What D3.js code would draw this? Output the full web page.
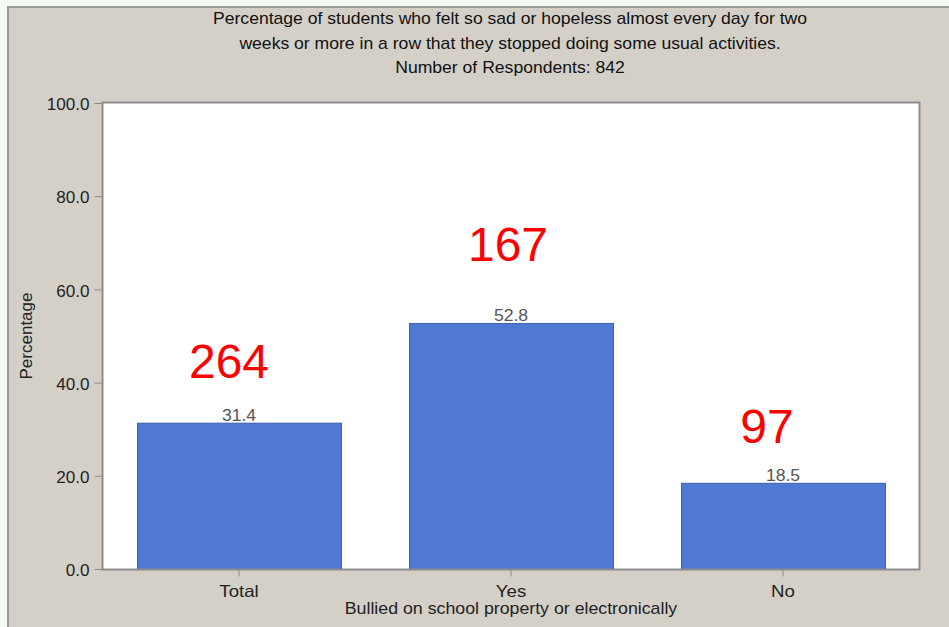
<!DOCTYPE html>
<html><head><meta charset="utf-8">
<script src="https://cdn.jsdelivr.net/npm/d3@7"></script>
<style>body{margin:0;background:#fff;}svg{display:block;}</style>
</head><body>
<script>
const categories = ["Total", "Yes", "No"];
const values = [31.4, 52.8, 18.5];
const counts = ["264", "167", "97"];
const yTicks = [0, 20, 40, 60, 80, 100];
const titleLines = [
  "Percentage of students who felt so sad or hopeless almost every day for two",
  "weeks or more in a row that they stopped doing some usual activities.",
  "Number of Respondents: 842"
];
const xTitle = "Bullied on school property or electronically";
const yTitle = "Percentage";

// layout (not data)
const countOffsets = [{dx:-10, dy:-45}, {dx:-3, dy:-62}, {dx:-16, dy:-40}];

const W = 949, H = 627;
const m = {left:103, top:103, right:919, bottom:569};
const svg = d3.select("body").append("svg").attr("width", W).attr("height", H);
const font = "'Liberation Sans', Arial, sans-serif";

function stretch(sel, sx) {
  sel.each(function() {
    const t = d3.select(this);
    const tx = +t.attr("x") || 0, ty = +t.attr("y") || 0;
    t.attr("x", 0).attr("y", 0).attr("transform", `translate(${tx},${ty}) scale(${sx},1)`);
  });
}

svg.append("rect").attr("width", W).attr("height", H).attr("fill", "#f3faf3");
svg.append("rect").attr("x", 8).attr("y", 7).attr("width", W).attr("height", H)
  .attr("fill", "#d4d0c8").attr("stroke", "#9a9a9a").attr("stroke-width", 2);

const x = d3.scaleBand().domain(categories).range([m.left, m.right]).paddingInner(0.25).paddingOuter(0.125);
const y = d3.scaleLinear().domain([0, 100]).range([m.bottom, m.top]);

svg.append("rect").attr("x", m.left).attr("y", m.top)
  .attr("width", m.right - m.left).attr("height", m.bottom - m.top)
  .attr("fill", "#fff");

// bars
svg.selectAll("rect.bar").data(values).join("rect").attr("class", "bar")
  .attr("x", (d, i) => x(categories[i]) + 0.5)
  .attr("y", d => y(d) + 0.5)
  .attr("width", x.bandwidth())
  .attr("height", d => y(0) - y(d))
  .attr("fill", "#5079d4").attr("stroke", "#3d5fae").attr("stroke-width", 1);

// value labels
const vl = svg.selectAll("text.val").data(values).join("text").attr("class", "val")
  .attr("x", (d, i) => x(categories[i]) + x.bandwidth() / 2)
  .attr("y", d => y(d) - 2)
  .attr("text-anchor", "middle").attr("font-family", font).attr("font-size", 16)
  .attr("fill", "#555").text(d => d.toFixed(1));
stretch(vl, 1.1);

// red counts
svg.selectAll("text.cnt").data(counts).join("text").attr("class", "cnt")
  .attr("x", (d, i) => x(categories[i]) + x.bandwidth() / 2 + countOffsets[i].dx)
  .attr("y", (d, i) => y(values[i]) + countOffsets[i].dy)
  .attr("text-anchor", "middle").attr("font-family", font).attr("font-size", 48)
  .attr("fill", "#ff0000").text(d => d);

// plot border
svg.append("rect").attr("x", m.left - 0.5).attr("y", m.top - 0.5)
  .attr("width", m.right - m.left + 1).attr("height", m.bottom - m.top + 1)
  .attr("fill", "none").attr("stroke", "#8c8c8c").attr("stroke-width", 2);

// y axis
const ya = svg.append("g").attr("transform", `translate(${m.left - 0.5},0)`)
  .call(d3.axisLeft(y).tickValues(yTicks).tickSize(8).tickPadding(5).tickFormat(d3.format(".1f")));
ya.select(".domain").remove();
ya.selectAll("line").attr("stroke", "#8c8c8c");
ya.selectAll("text").attr("font-family", font).attr("font-size", 16).attr("fill", "#222").attr("dy", "0.42em");
stretch(ya.selectAll("text"), 1.07);

// x axis
const xa = svg.append("g").attr("transform", `translate(0,${m.bottom + 0.5})`)
  .call(d3.axisBottom(x).tickSize(7).tickPadding(9));
xa.select(".domain").remove();
xa.selectAll("line").attr("stroke", "#8c8c8c");
xa.selectAll("text").attr("font-family", font).attr("font-size", 16.5).attr("fill", "#222");
stretch(xa.selectAll("text"), 1.13);

// titles
const tl = svg.selectAll("text.title").data(titleLines).join("text").attr("class", "title")
  .attr("x", 510).attr("y", (d, i) => 24 + i * 24.5)
  .attr("text-anchor", "middle").attr("font-family", font).attr("font-size", 16)
  .attr("fill", "#111").text(d => d);
stretch(tl, 1.1);

const xt = svg.append("text").attr("x", 511).attr("y", 614).attr("text-anchor", "middle")
  .attr("font-family", font).attr("font-size", 16).attr("fill", "#222").text(xTitle);
stretch(xt, 1.11);

svg.append("text").attr("transform", "translate(32,336) rotate(-90)").attr("text-anchor", "middle")
  .attr("font-family", font).attr("font-size", 17).attr("fill", "#222").text(yTitle);
</script>
</body></html>
